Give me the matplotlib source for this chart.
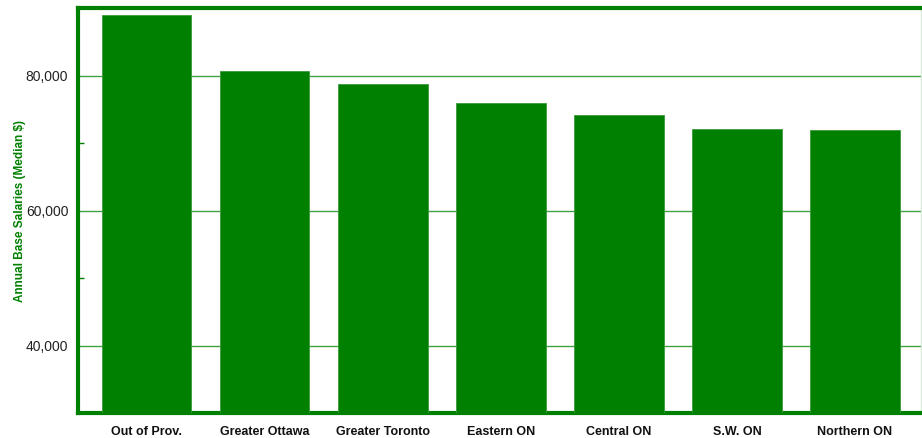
import matplotlib
matplotlib.use("Agg")
import matplotlib.pyplot as plt
from matplotlib.ticker import FuncFormatter, MultipleLocator

regions = ["Out of Prov.", "Greater Ottawa", "Greater Toronto", "Eastern ON",
           "Central ON", "S.W. ON", "Northern ON"]
salaries = [89000, 80600, 78800, 76000, 74100, 72150, 72000]

GREEN = "#008000"

plt.rcParams['font.family'] = ['Liberation Sans', 'DejaVu Sans']

fig = plt.figure(figsize=(9.22, 4.38), dpi=100)
ax = fig.add_axes([0.0846, 0.057, 0.9145, 0.9247])

x = range(len(regions))
ax.bar(x, salaries, width=0.76, color=GREEN, edgecolor="#3a9a3a", linewidth=0.6, zorder=3)

ax.set_xlim(-0.58, 6.56)
ax.set_ylim(30000, 90000)
ax.yaxis.set_major_locator(MultipleLocator(20000))
ax.yaxis.set_minor_locator(MultipleLocator(10000))
ax.yaxis.set_major_formatter(FuncFormatter(lambda v, p: f"{int(v):,}"))

ax.grid(axis="y", which="major", color=GREEN, linewidth=1.0, alpha=0.75, zorder=1)
ax.set_xticks(list(x))
ax.set_xticklabels(regions, fontsize=9, fontweight="bold", color="#111111")
ax.tick_params(axis="x", length=0, pad=9)
ax.tick_params(axis="y", which="major", length=0, labelsize=10, labelcolor="#222222", pad=7)
ax.tick_params(axis="y", which="minor", direction="in", length=4, color=GREEN, width=1)

for side in ["left", "top", "bottom"]:
    ax.spines[side].set_color(GREEN)
    ax.spines[side].set_linewidth(3)
ax.spines["right"].set_color("#d8ead8")
ax.spines["right"].set_linewidth(1)

ax.set_ylabel("Annual Base Salaries (Median $)", fontsize=8.5, fontweight="bold",
              color=GREEN)
ax.yaxis.set_label_coords(-0.062, 0.5)

fig.savefig("out.png", dpi=100)
